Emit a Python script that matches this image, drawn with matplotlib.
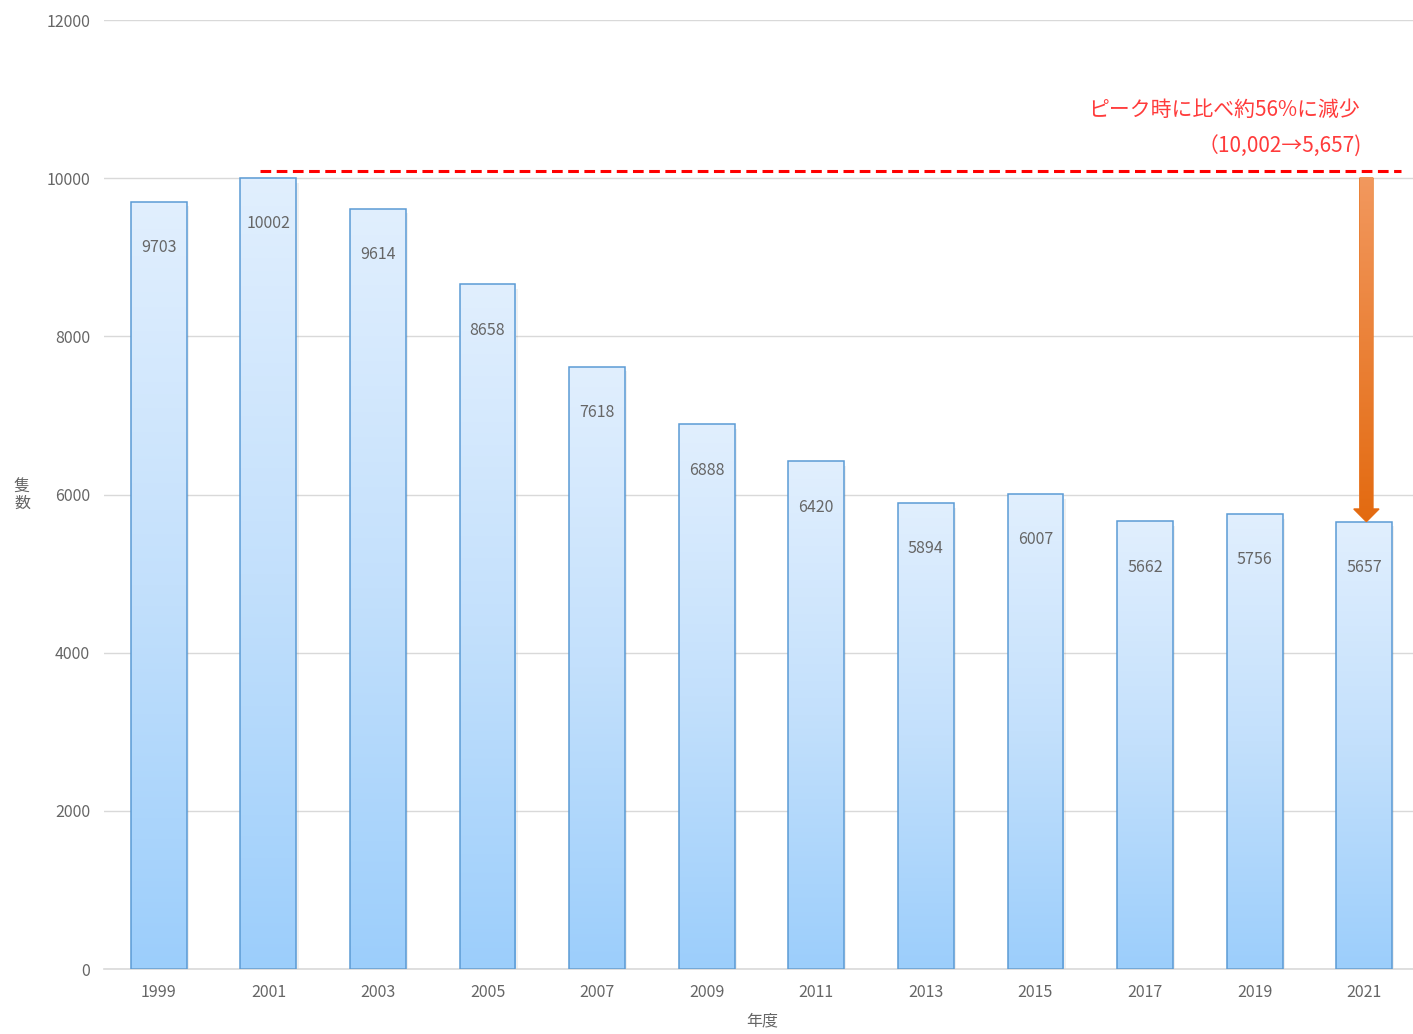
import matplotlib
matplotlib.use("Agg")
import matplotlib.pyplot as plt
import numpy as np
from matplotlib.colors import LinearSegmentedColormap
from matplotlib.patches import FancyArrow

years = ["1999", "2001", "2003", "2005", "2007", "2009", "2011", "2013", "2015", "2017", "2019", "2021"]
counts = [9703, 10002, 9614, 8658, 7618, 6888, 6420, 5894, 6007, 5662, 5756, 5657]
yticks = [0, 2000, 4000, 6000, 8000, 10000, 12000]
peak_value = 10002
last_value = 5657
note1 = "ピーク時に比べ約56%に減少"
note2 = "（10,002→5,657)"

plt.rcParams['font.family'] = ['Noto Sans CJK JP', 'DejaVu Sans']

W, H = 1413, 1034
fig = plt.figure(figsize=(W / 100, H / 100), dpi=100)
ax = fig.add_axes([104 / W, (H - 969) / H, (1419 - 104) / W, (969 - 20) / H])

x = np.arange(len(years))
bw = 0.51
bars = ax.bar(x, counts, width=bw, color='none', edgecolor='#5B9BD5', linewidth=1.1, zorder=3)

cmap = LinearSegmentedColormap.from_list('g', ['#9CCEFB', '#C3E0FC', '#E1EFFE'])
grad = np.linspace(0, 1, 256).reshape(-1, 1)
for b in bars:
    x0, w, h = b.get_x(), b.get_width(), b.get_height()
    im = ax.imshow(grad, cmap=cmap, aspect='auto', origin='lower',
                   extent=[x0, x0 + w, 0, h], zorder=2)
    im.set_clip_path(b)
    ax.bar(x0 + w / 2 + 0.02, h, width=w, bottom=-60, color='#000000', alpha=0.06, zorder=1.5)

for xi, v in zip(x, counts):
    ax.text(xi, v - 580, str(v), ha='center', va='center', fontsize=11.5, color='#666666', zorder=5)

ax.set_xlim(-0.5, 11.5)
ax.set_ylim(0, 12000)
ax.set_yticks(yticks)
ax.set_yticklabels([str(t) for t in yticks])
ax.set_xticks(x)
ax.set_xticklabels(years)
ax.tick_params(axis='both', length=0, labelsize=11.5, labelcolor='#666666')
ax.tick_params(axis='y', pad=10)
ax.tick_params(axis='x', pad=11)
ax.grid(axis='y', color='#D9D9D9', linewidth=1, zorder=0)
ax.set_axisbelow(True)
for s in ['top', 'right', 'left']:
    ax.spines[s].set_visible(False)
ax.spines['bottom'].set_color('#D9D9D9')
ax.spines['bottom'].set_linewidth(1.2)

ax.plot([0.92, 11.34], [10090, 10090], color='#FF0000', linestyle=(0, (3.5, 1.8)),
        linewidth=2.2, zorder=6, clip_on=False)

ax_x = 11.02
arr = FancyArrow(ax_x, peak_value, 0, -(peak_value - last_value), width=0.12,
                 head_width=0.23, head_length=160, length_includes_head=True,
                 color='#E8711A', zorder=7)
ax.add_patch(arr)
cmap2 = LinearSegmentedColormap.from_list('o', ['#E36A10', '#F2985E'])
im2 = ax.imshow(grad, cmap=cmap2, aspect='auto', origin='lower',
                extent=[ax_x - 0.12, ax_x + 0.12, last_value, peak_value], zorder=7.5)
im2.set_clip_path(arr)

ax.text(1360 / W, (H - 110) / H, note1, transform=fig.transFigure, ha='right', va='center',
        fontsize=15, color='#FF3B3B')
ax.text(1362 / W, (H - 147) / H, note2, transform=fig.transFigure, ha='right', va='center',
        fontsize=15, color='#FF3B3B')

fig.text(22 / W, (H - 495) / H, "隻\n数", ha='center', va='center', fontsize=11.5,
         color='#666666', linespacing=0.95)
fig.text(762 / W, (H - 1021) / H, "年度", ha='center', va='center', fontsize=11.5, color='#666666')

fig.savefig("out.png", dpi=100)
